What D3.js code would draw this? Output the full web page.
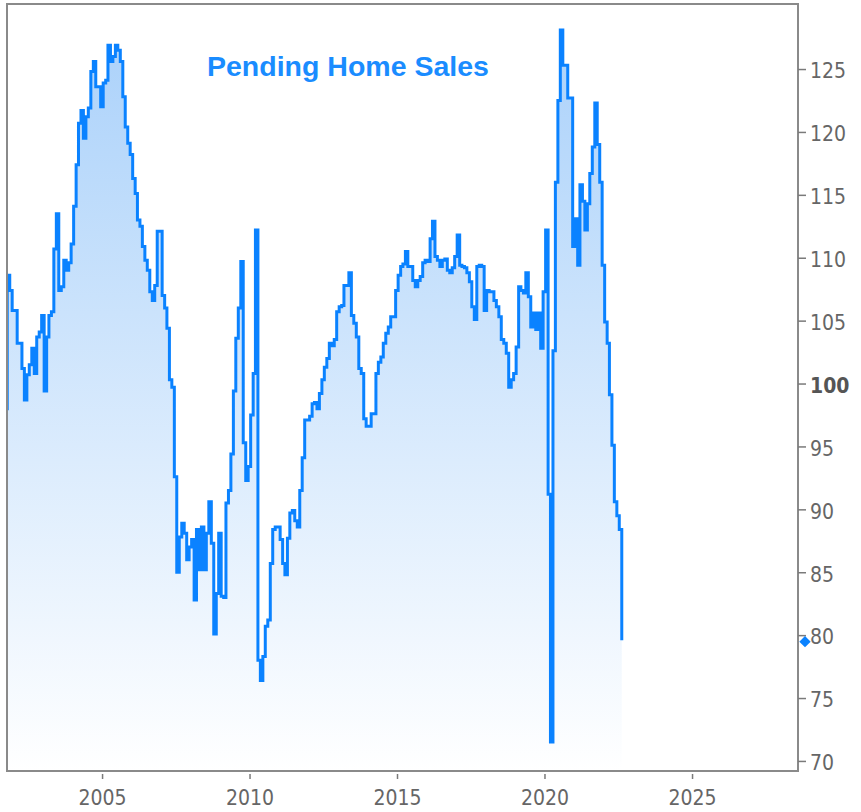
<!DOCTYPE html>
<html>
<head>
<meta charset="utf-8">
<script src="https://cdn.jsdelivr.net/npm/d3@7"></script>
<style>
    body { margin: 0; background: #fff; }
    svg { display: block; }
    .axis text { font-family: Tahoma, "DejaVu Sans Condensed", "DejaVu Sans", sans-serif; font-size: 21px; fill: #666; }
    .axis line { stroke: #7a7a7a; stroke-width: 1.5; }
</style>
</head>
<body>
<div id="chart"></div>
<script>
const chartTitle = "Pending Home Sales";

// monthly index values, first value is Sep 2001
const firstMonth = new Date(2001, 8, 15);
const sales2001_2004 = [
    98.0, 108.6, 107.4, 105.8, 105.8, 103.2, 103.2, 101.2, 98.7, 100.7, 101.5, 102.8, 100.8,
    103.7, 104.1, 105.4, 99.4, 103.7, 105.4, 105.7, 110.7, 113.5, 107.4, 107.7, 109.8, 109.0,
    109.6, 111.1, 114.1, 117.4, 120.7, 121.7, 119.5, 121.2, 121.9, 124.8, 125.6, 123.6, 123.6, 122.0
];
const sales2005_2009 = [
    123.9, 124.1, 126.9, 125.6, 126.0, 126.9, 126.5, 125.6, 122.8, 120.4, 119.1, 118.2,
    116.3, 115.1, 113.0, 112.5, 110.9, 109.8, 109.0, 107.3, 106.6, 107.8, 112.1, 112.1,
    107.0, 106.0, 104.4, 100.3, 99.7, 92.6, 85.0, 87.8, 88.9, 88.1, 86.0, 87.0,
    87.6, 82.8, 88.4, 85.2, 88.6, 85.2, 88.1, 90.6, 87.3, 80.1, 83.3, 88.1,
    83.1, 83.0, 90.5, 91.5, 94.4, 99.4, 103.6, 106.0, 109.7, 95.3, 92.3, 93.4
];
const sales2010_2014 = [
    97.5, 100.8, 112.2, 78.0, 76.4, 78.3, 80.7, 81.2, 85.7, 88.4, 88.6, 88.6,
    87.6, 85.7, 84.8, 87.7, 89.7, 89.9, 89.1, 88.6, 91.5, 94.1, 97.1, 97.1,
    97.4, 98.4, 98.5, 98.0, 99.2, 100.3, 101.3, 102.0, 103.2, 103.0, 103.5, 105.7,
    106.1, 106.2, 107.8, 107.8, 108.8, 105.4, 104.8, 103.7, 101.2, 100.8, 97.2, 96.6,
    96.6, 97.6, 97.6, 100.8, 101.7, 102.1, 103.2, 104.0, 104.5, 105.3, 105.3, 107.4
];
const sales2015_2019 = [
    108.6, 109.3, 109.5, 110.5, 109.3, 109.3, 108.2, 107.7, 108.2, 108.5, 109.6, 109.8,
    109.7, 111.5, 112.9, 110.1, 109.8, 109.3, 109.8, 109.9, 109.0, 108.8, 109.2, 110.1,
    111.8, 109.4, 109.3, 109.2, 108.8, 108.1, 106.1, 105.1, 109.3, 109.4, 109.3, 105.8,
    107.4, 107.3, 107.3, 106.6, 106.1, 105.3, 103.5, 103.2, 102.4, 99.7, 100.3, 100.8,
    102.9, 107.7, 107.4, 107.2, 108.8, 106.9, 104.5, 105.6, 104.3, 105.6, 102.8, 107.3
];
const sales2020_2022 = [
    112.2, 91.2, 71.5, 102.6, 116.0, 122.5, 128.1, 125.3, 125.3, 122.7, 122.7, 110.9,
    113.1, 109.4, 115.8, 114.5, 112.2, 114.3, 116.7, 118.8, 122.3, 119.0, 116.0, 109.4,
    104.9, 103.2, 99.1, 95.1, 90.6, 89.5, 88.4, 79.6
];

const yTicks = [70, 75, 80, 85, 90, 95, 100, 105, 110, 115, 120, 125];
const xTickYears = [2005, 2010, 2015, 2020, 2025];

class PendingChart{
    constructor(parent){
        this.parent = d3.select(parent);
        this.w = 861;
        this.h = 812;
        this.plot = {left: 7, top: 4, right: 798, bottom: 771};

        const values = [].concat(sales2001_2004, sales2005_2009, sales2010_2014, sales2015_2019, sales2020_2022);
        this.data = values.map((v, i) => ({date: d3.timeMonth.offset(firstMonth, i), value: v}));

        this.prepScales();
        this.render();
    }

    prepScales(){
        this.x = d3.scaleTime()
            .domain([new Date(2001, 9, 12), new Date(2028, 7, 5)])
            .range([this.plot.left, this.plot.right]);
        this.y = d3.scaleLinear()
            .domain([69.2, 130.17])
            .range([this.plot.bottom, this.plot.top]);
    }

    render(){
        const p = this.plot;
        this.svg = this.parent.append("svg")
            .attr("width", this.w)
            .attr("height", this.h);

        const defs = this.svg.append("defs");
        defs.append("clipPath").attr("id", "plot-clip")
            .append("rect")
                .attr("x", p.left).attr("y", p.top)
                .attr("width", p.right - p.left).attr("height", p.bottom - p.top);

        const grad = defs.append("linearGradient")
            .attr("id", "fill-grad")
            .attr("gradientUnits", "userSpaceOnUse")
            .attr("x1", 0).attr("y1", p.top)
            .attr("x2", 0).attr("y2", p.bottom);
        grad.append("stop").attr("offset", "0%").attr("stop-color", "#a8d0fa");
        grad.append("stop").attr("offset", "100%").attr("stop-color", "#ffffff");

        const g = this.svg.append("g").attr("clip-path", "url(#plot-clip)");

        const area = d3.area()
            .curve(d3.curveStepAfter)
            .x(d => this.x(d.date))
            .y0(p.bottom)
            .y1(d => this.y(d.value));

        const line = d3.line()
            .curve(d3.curveStepAfter)
            .x(d => this.x(d.date))
            .y(d => this.y(d.value));

        g.append("path")
            .datum(this.data)
            .attr("d", area)
            .style("fill", "url(#fill-grad)");

        g.append("path")
            .datum(this.data)
            .attr("d", line)
            .style("fill", "none")
            .style("stroke", "#0a82ff")
            .style("stroke-width", 3)
            .style("stroke-linejoin", "miter");

        // frame
        this.svg.append("rect")
            .attr("x", p.left).attr("y", p.top)
            .attr("width", p.right - p.left).attr("height", p.bottom - p.top)
            .style("fill", "none")
            .style("stroke", "#8a8a8a")
            .style("stroke-width", 2);

        // right axis
        const yAxis = this.svg.append("g")
            .classed("axis", true)
            .attr("transform", `translate(${p.right},0)`)
            .call(d3.axisRight(this.y).tickValues(yTicks).tickSize(8).tickPadding(4));
        yAxis.select(".domain").remove();
        yAxis.selectAll("text")
            .attr("dy", "0.42em")
            .style("font-weight", d => d === 100 ? "bold" : "normal")
            .style("fill", d => d === 100 ? "#555" : "#666");

        // bottom axis
        const xAxis = this.svg.append("g")
            .classed("axis", true)
            .attr("transform", `translate(0,${p.bottom + 3})`)
            .call(d3.axisBottom(this.x)
                .tickValues(xTickYears.map(yr => new Date(yr, 0, 1)))
                .tickSize(5)
                .tickFormat(d3.timeFormat("%Y")));
        xAxis.select(".domain").remove();
        xAxis.selectAll("text").attr("y", 31).attr("dy", 0);

        // last value marker on the axis
        const last = this.data[this.data.length - 1];
        this.svg.append("path")
            .attr("d", d3.symbol().type(d3.symbolSquare).size(64)())
            .attr("transform", `translate(${p.right + 7},${this.y(last.value) + 1.5}) rotate(45)`)
            .style("fill", "#0a82ff");

        this.svg.append("text")
            .attr("x", 207)
            .attr("y", 76)
            .text(chartTitle)
            .style("font-family", "'Liberation Sans', Arial, sans-serif")
            .style("font-weight", "bold")
            .style("font-size", "28.5px")
            .style("fill", "#1a8cff");
    }
}

new PendingChart(document.getElementById("chart"));
</script>
</body>
</html>
